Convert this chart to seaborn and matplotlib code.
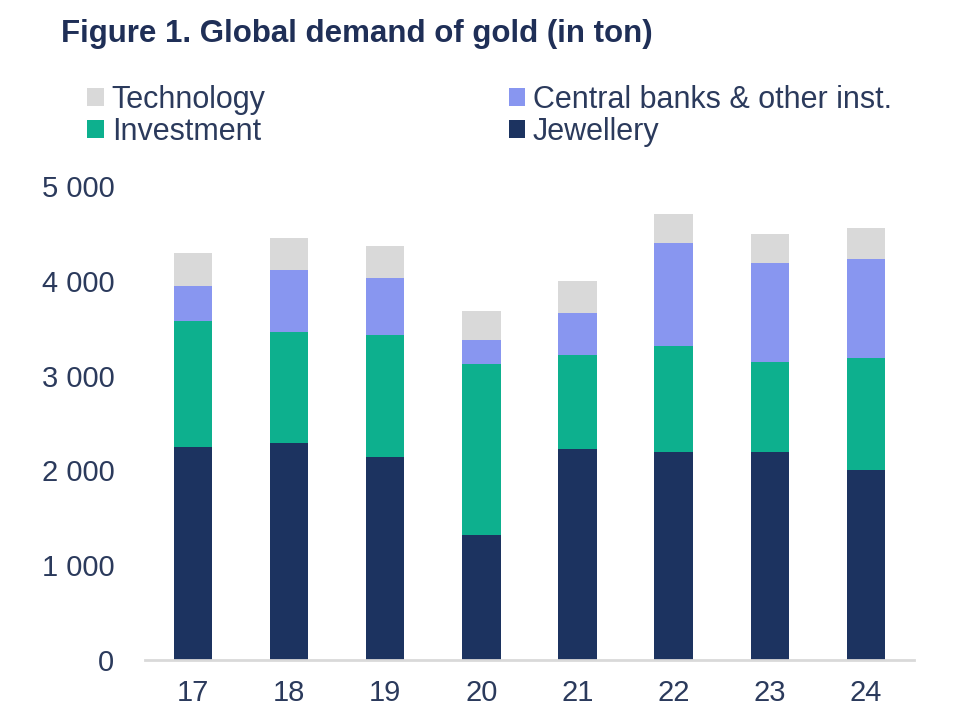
import numpy as np
import pandas as pd
import matplotlib
matplotlib.use("Agg")
import matplotlib.pyplot as plt
from matplotlib.patches import Patch
import seaborn as sns

# Global demand of gold, in ton
years = ["17", "18", "19", "20", "21", "22", "23", "24"]
jewellery = [2250, 2290, 2140, 1320, 2230, 2190, 2190, 2000]
investment = [1330, 1170, 1290, 1800, 990, 1120, 950, 1185]
central_banks = [370, 655, 600, 255, 445, 1085, 1045, 1045]
technology = [345, 335, 335, 305, 335, 310, 305, 325]

series_names = ["Jewellery", "Investment", "Central banks & other inst.", "Technology"]
colors = {"Jewellery": "#1c3360", "Investment": "#0db08e",
          "Central banks & other inst.": "#8896f0", "Technology": "#d9d9d9"}
text_col = "#2b3a5c"

df = pd.DataFrame({"year": years, "Jewellery": jewellery, "Investment": investment,
                   "Central banks & other inst.": central_banks, "Technology": technology})

sns.set_theme(style="white")
plt.rcParams["font.family"] = ["Liberation Sans", "DejaVu Sans"]

fig = plt.figure(figsize=(9.6, 7.2), dpi=100)
ax = fig.add_axes([0.151, 0.0833, 0.801, 0.6584])

# stacked bars: draw the cumulative totals, tallest first
cum = df[series_names].cumsum(axis=1)
for name in reversed(series_names):
    sns.barplot(x=df["year"], y=cum[name], color=colors[name], saturation=1,
                width=0.4, ax=ax, linewidth=0)

ax.set_xlim(-0.5, 7.5)
ax.set_ylim(0, 5000)
ax.set_yticks([0, 1000, 2000, 3000, 4000, 5000])
ax.set_yticklabels(["0", "1 000", "2 000", "3 000", "4 000", "5 000"])
ax.set_xlabel("")
ax.set_ylabel("")
ax.tick_params(axis="both", length=0, labelsize=21, colors=text_col)
ax.tick_params(axis="y", pad=22)
ax.tick_params(axis="x", pad=14)
for s in ["top", "right", "left"]:
    ax.spines[s].set_visible(False)
ax.spines["bottom"].set_color("#d9d9d9")
ax.spines["bottom"].set_linewidth(2)

fig.text(0.064, 0.953, "Figure 1. Global demand of gold (in ton)", fontsize=22.5,
         fontweight="bold", color="#1f2f57", va="center", ha="left")

order = ["Technology", "Investment", "Central banks & other inst.", "Jewellery"]
handles = [Patch(facecolor=colors[n], edgecolor="none") for n in order]
fig.legend(handles, order, ncol=2, loc="upper left", bbox_to_anchor=(0.091, 0.882),
           frameon=False, fontsize=22, labelcolor=text_col, handlelength=0.55,
           handleheight=0.55, handletextpad=0.25, columnspacing=7.95,
           labelspacing=0.06, borderaxespad=0, borderpad=0)

fig.savefig("out.png", dpi=100, facecolor="white")
